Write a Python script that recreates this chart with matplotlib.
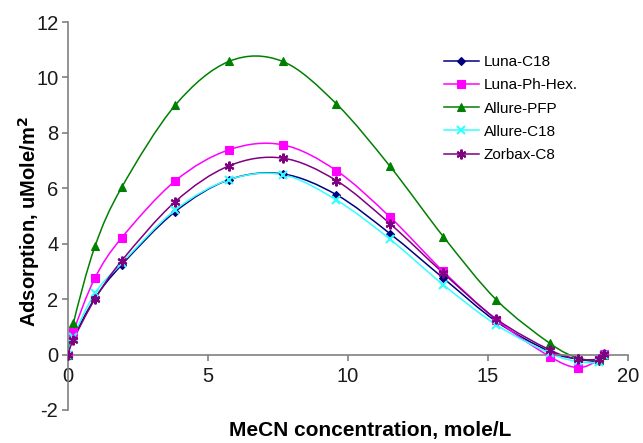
import numpy as np
import matplotlib
matplotlib.use("Agg")
import matplotlib.pyplot as plt
from matplotlib.path import Path
from matplotlib.patches import PathPatch
from matplotlib.lines import Line2D

plt.rcParams['font.family'] = ['Liberation Sans', 'DejaVu Sans']

# MeCN concentration (mole/L)
conc = [0.0, 0.19, 0.96, 1.92, 3.83, 5.75, 7.66, 9.58, 11.5, 13.4, 15.3, 17.2, 18.2, 18.96, 19.15]

luna_c18 = [0.0, 0.59, 2.03, 3.24, 5.16, 6.31, 6.52, 5.77, 4.36, 2.76, 1.19, 0.11, -0.16, -0.23, 0.0]
luna_ph_hex = [0.0, 0.81, 2.76, 4.22, 6.27, 7.39, 7.57, 6.64, 4.96, 3.0, 1.25, -0.07, -0.47, -0.19, 0.03]
allure_pfp = [0.0, 1.13, 3.90, 6.04, 9.0, 10.58, 10.58, 9.05, 6.79, 4.26, 1.97, 0.41, -0.12, -0.19, 0.0]
allure_c18 = [0.0, 0.65, 2.21, 3.30, 5.22, 6.31, 6.49, 5.58, 4.16, 2.52, 1.07, 0.05, -0.25, -0.27, -0.02]
zorbax_c8 = [0.0, 0.53, 2.0, 3.39, 5.52, 6.81, 7.09, 6.28, 4.72, 2.94, 1.28, 0.17, -0.16, -0.16, 0.02]

series_names = ['Luna-C18', 'Luna-Ph-Hex.', 'Allure-PFP', 'Allure-C18', 'Zorbax-C8']
series_values = [luna_c18, luna_ph_hex, allure_pfp, allure_c18, zorbax_c8]
colors = ['#000080', '#FF00FF', '#008000', '#33FFFF', '#800080']
markers = ['D', 's', '^', 'x', (6, 2, 0)]
msizes = [4.5, 5.5, 6, 6, 7]

fig = plt.figure(figsize=(6.43, 4.43), dpi=100)
ax = fig.add_axes([0.1058, 0.0745, 0.871, 0.8758])


def smooth_path(xs, ys):
    xs = np.asarray(xs, float)
    ys = np.asarray(ys, float)
    n = len(xs)
    verts = [(xs[0], ys[0])]
    codes = [Path.MOVETO]
    for i in range(n - 1):
        p0 = np.array([xs[max(i - 1, 0)], ys[max(i - 1, 0)]])
        p1 = np.array([xs[i], ys[i]])
        p2 = np.array([xs[i + 1], ys[i + 1]])
        p3 = np.array([xs[min(i + 2, n - 1)], ys[min(i + 2, n - 1)]])
        c1 = p1 + (p2 - p0) / 6.0
        c2 = p2 - (p3 - p1) / 6.0
        verts += [tuple(c1), tuple(c2), tuple(p2)]
        codes += [Path.CURVE4] * 3
    return Path(verts, codes)


handles = []
for name, vals, c, m, ms in zip(series_names, series_values, colors, markers, msizes):
    patch = PathPatch(smooth_path(conc, vals), facecolor='none', edgecolor=c, lw=1.1, zorder=2)
    ax.add_patch(patch)
    mew = 1.5 if m in ('x',) or isinstance(m, tuple) else 0.8
    ax.plot(conc, vals, ls='none', marker=m, color=c, ms=ms, mew=mew, zorder=3)
    handles.append(Line2D([], [], color=c, lw=1.1, marker=m, ms=ms, mew=mew))

ax.set_xlim(0, 20)
ax.set_ylim(-2, 12)
ax.set_xticks([0, 5, 10, 15, 20])
ax.set_yticks([-2, 0, 2, 4, 6, 8, 10, 12])
ax.set_yticklabels(['-2', '0', '2', '4', '6', '8', '10', '12'])

for s in ['top', 'right']:
    ax.spines[s].set_visible(False)
ax.spines['bottom'].set_position(('data', 0))
ax.spines['left'].set_color('#808080')
ax.spines['bottom'].set_color('#808080')
ax.spines['left'].set_linewidth(1.2)
ax.spines['bottom'].set_linewidth(1.2)
ax.tick_params(axis='both', colors='#808080', labelcolor='#1a1a1a', labelsize=14.5, length=4, width=1.2)
ax.tick_params(axis='x', direction='out', pad=5)
ax.tick_params(axis='y', pad=3)

fig.text(0.045, 0.5, 'Adsorption, uMole/m$^\\mathbf{2}$', rotation=90, ha='center', va='center',
         fontsize=14.5, fontweight='bold')
fig.text(0.576, 0.006, 'MeCN concentration, mole/L', ha='center', va='bottom',
         fontsize=15, fontweight='bold')

leg = ax.legend(handles, series_names, loc='upper left', bbox_to_anchor=(0.66, 0.93), frameon=False,
                fontsize=11, handlelength=2.3, handletextpad=0.3, labelspacing=0.6, borderaxespad=0)

fig.savefig('out.png', dpi=100)
